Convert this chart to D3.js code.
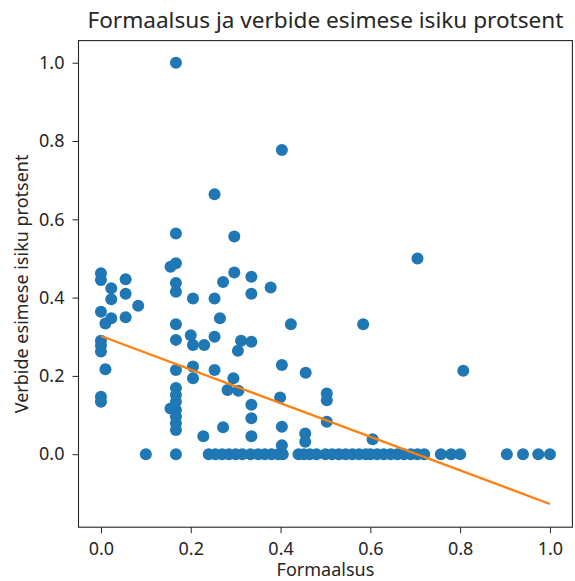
<!DOCTYPE html>
<html>
<head>
<meta charset="utf-8">
<script src="https://cdn.jsdelivr.net/npm/d3@7"></script>
<style>
  html, body { margin: 0; padding: 0; background: #fff; }
  svg { display: block; font-family: "Noto Sans", sans-serif; }
</style>
</head>
<body>
<svg id="chart" width="575" height="581"></svg>
<script>
// ---- data ----
const formaalsus = [
  0,0,0,0,0,0,0,0,
  0.01,0.01,
  0.023,0.023,0.023,
  0.055,0.055,0.055,
  0.083,
  0.1,
  0.167,0.167,0.167,0.167,0.167,0.167,0.167,0.167,0.167,0.167,0.167,0.167,0.167,0.167,0.167,0.167,
  0.155,0.155,
  0.205,0.2,0.205,0.205,0.205,
  0.23,0.228,
  0.253,0.253,0.253,0.253,
  0.265,
  0.272,0.272,
  0.282,
  0.295,
  0.297,0.297,
  0.306,0.305,
  0.312,
  0.335,0.335,0.335,0.335,0.335,0.335,
  0.378,
  0.403,0.403,0.399,0.403,0.403,
  0.423,
  0.456,0.455,0.455,
  0.503,0.503,0.503,
  0.584,
  0.605,
  0.705,
  0.807,
  // zero row
  0.24,0.255,0.27,0.285,0.3,0.315,0.333,0.35,0.365,0.38,0.395,0.405,
  0.44,0.452,0.465,0.48,0.5,0.515,0.53,0.545,0.56,0.575,0.59,0.6,0.615,0.63,0.645,0.66,0.675,0.69,0.705,0.72,
  0.757,0.78,0.8,
  0.904,0.94,0.974,1.0
];
const verbideProtsent = [
  0.462,0.445,0.364,0.29,0.277,0.262,0.147,0.134,
  0.334,0.217,
  0.424,0.396,0.347,
  0.447,0.41,0.35,
  0.379,
  0,
  1.0,0.564,0.488,0.437,0.415,0.332,0.292,0.215,0.169,0.151,0.134,0.113,0.096,0.079,0.062,0,
  0.479,0.117,
  0.398,0.304,0.279,0.224,0.194,
  0.279,0.046,
  0.664,0.398,0.30,0.215,
  0.347,
  0.44,0.069,
  0.164,
  0.194,
  0.556,0.464,
  0.162,0.264,
  0.29,
  0.453,0.41,0.287,0.126,0.092,0.046,
  0.426,
  0.777,0.228,0.145,0.07,0.023,
  0.332,
  0.208,0.053,0.032,
  0.155,0.138,0.083,
  0.332,
  0.038,
  0.5,
  0.213,
  0,0,0,0,0,0,0,0,0,0,0,0,
  0,0,0,0,0,0,0,0,0,0,0,0,0,0,0,0,0,0,0,0,
  0,0,0,
  0,0,0,0
];
const fitX = [0, 1];
const fitY = [0.302, -0.127];
const xTicks = [0.0, 0.2, 0.4, 0.6, 0.8, 1.0];
const yTicks = [0.0, 0.2, 0.4, 0.6, 0.8, 1.0];
const titleText = "Formaalsus ja verbide esimese isiku protsent";
const xLabel = "Formaalsus";
const yLabel = "Verbide esimese isiku protsent";

(function () {
  // ---- layout ----
  const svg = d3.select("#chart");
  const mLeft = 78.5, mRight = 572.4, mTop = 40.6, mBottom = 527.2;
  const FONT = "Noto Sans, sans-serif";

  const x = d3.scaleLinear().domain([-0.05, 1.05]).range([mLeft, mRight]);
  const y = d3.scaleLinear().domain([-0.1865, 1.0565]).range([mBottom, mTop]);

  const fmt = d3.format(".1f");

  // points
  svg.append("g").selectAll("circle")
    .data(formaalsus.map((d, i) => [d, verbideProtsent[i]]))
    .join("circle")
    .attr("cx", d => x(d[0]))
    .attr("cy", d => y(d[1]))
    .attr("r", 6)
    .attr("fill", "#1f77b4");

  // fit line
  svg.append("path")
    .datum(fitX.map((d, i) => [d, fitY[i]]))
    .attr("d", d3.line().x(d => x(d[0])).y(d => y(d[1])))
    .attr("fill", "none")
    .attr("stroke", "#ff7f0e")
    .attr("stroke-width", 2.2);

  // axes
  const xAxis = svg.append("g")
    .attr("transform", `translate(0,${mBottom})`)
    .call(d3.axisBottom(x).tickValues(xTicks).tickFormat(fmt).tickSize(6).tickPadding(9).tickSizeOuter(0));
  const yAxis = svg.append("g")
    .attr("transform", `translate(${mLeft},0)`)
    .call(d3.axisLeft(y).tickValues(yTicks).tickFormat(fmt).tickSize(6).tickPadding(8).tickSizeOuter(0));
  [xAxis, yAxis].forEach(a => {
    a.select(".domain").remove();
    a.selectAll("text").attr("font-size", 18).attr("fill", "#262626")
      .attr("font-family", FONT);
    a.selectAll("line").attr("stroke", "#262626").attr("stroke-width", 1);
  });

  // frame
  svg.append("rect")
    .attr("x", mLeft).attr("y", mTop)
    .attr("width", mRight - mLeft).attr("height", mBottom - mTop)
    .attr("fill", "none").attr("stroke", "#262626").attr("stroke-width", 1.1);

  // title & labels
  svg.append("text")
    .attr("x", (mLeft + mRight) / 2).attr("y", 28)
    .attr("text-anchor", "middle")
    .attr("font-family", FONT)
    .attr("font-size", 22.6).attr("fill", "#262626")
    .text(titleText);
  svg.append("text")
    .attr("x", (mLeft + mRight) / 2).attr("y", 576)
    .attr("text-anchor", "middle")
    .attr("font-family", FONT)
    .attr("font-size", 18).attr("fill", "#262626")
    .text(xLabel);
  svg.append("text")
    .attr("transform", `translate(28,${(mTop + mBottom) / 2}) rotate(-90)`)
    .attr("text-anchor", "middle")
    .attr("font-family", FONT)
    .attr("font-size", 18).attr("fill", "#262626")
    .text(yLabel);
})();
</script>
</body>
</html>
